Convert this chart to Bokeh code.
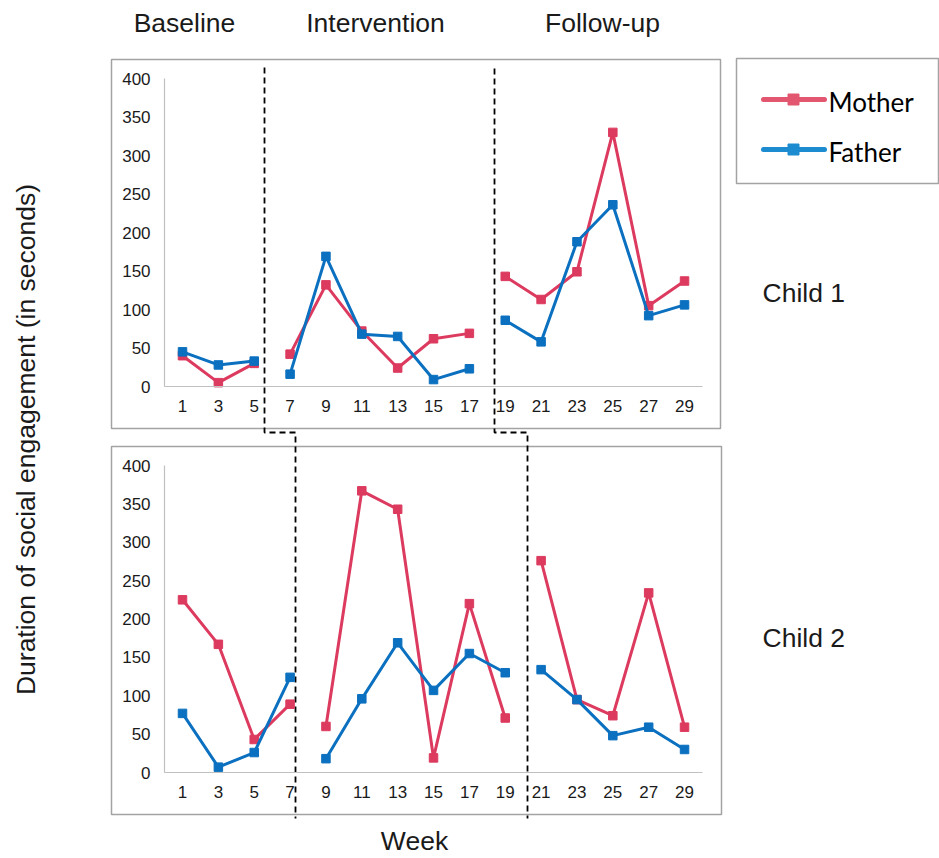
import math

from bokeh.core.properties import value
from bokeh.embed import file_html
from bokeh.models import FixedTicker, LinearAxis, Range1d
from bokeh.plotting import figure
from bokeh.resources import INLINE

# ---- data -------------------------------------------------------------
weeks = list(range(1, 30, 2))

child1_mother = [40, 5, 30, 42, 132, 72, 24, 62, 69, 143, 113, 149, 330, 105, 137]
child1_father = [45, 28, 33, 16, 169, 68, 65, 9, 23, 86, 58, 188, 236, 92, 106]
child1_phases = ["Baseline"] * 3 + ["Intervention"] * 6 + ["Follow-up"] * 6

child2_mother = [225, 167, 43, 89, 60, 367, 343, 19, 220, 71, 276, 95, 74, 234, 59]
child2_father = [77, 7, 26, 124, 18, 96, 169, 107, 155, 130, 134, 95, 48, 59, 30]
child2_phases = ["Baseline"] * 4 + ["Intervention"] * 6 + ["Follow-up"] * 5

phase_names = ["Baseline", "Intervention", "Follow-up"]
child_names = ["Child 1", "Child 2"]
series_names = ["Mother", "Father"]
y_ticks = [0, 50, 100, 150, 200, 250, 300, 350, 400]

# ---- styling ----------------------------------------------------------
W, H = 939, 858
RED = "#dc3a5e"
BLUE = "#0b70bf"
RED_LEGEND = "#e2566f"
BLUE_LEGEND = "#1d8bd0"
FONT = "Liberation Sans"
TEXT = "#1a1a1a"
BIG = "26.5px"

# week scale: week 1 sits 182 px from the left, 17.93 px per week
STEP = 17.93
X0 = 182
x_range = Range1d(1 - X0 / STEP, 1 + (W - X0) / STEP)
# value scales of the two panels (zero line and px per second)
top_range = Range1d(-(H - 386) / 0.77, 386 / 0.77)
bottom_range = Range1d(-(H - 772) / 0.7675, 772 / 0.7675)

p = figure(
    width=W, height=H,
    x_range=x_range, y_range=top_range,
    x_axis_location=None, y_axis_location=None,
    min_border=0, outline_line_color=None,
    toolbar_location=None, output_backend="svg",
)
p.grid.visible = False
p.extra_y_ranges = {"bottom": bottom_range, "py": Range1d(H, 0)}
p.extra_x_ranges = {"px": Range1d(0, W)}

# panel frames and legend frame (page pixel coordinates)
p.quad(left=[111, 111, 736], right=[720, 721, 938], top=[59, 446, 58], bottom=[428, 814, 183],
       fill_color=None, line_color="#a3a3a3", line_width=1.5,
       x_range_name="px", y_range_name="py")

# axes drawn inside each panel
for rng in ("default", "bottom"):
    yax = LinearAxis(
        y_range_name=rng, fixed_location=0, bounds=(0, 400),
        ticker=FixedTicker(ticks=y_ticks),
        axis_line_color="#c0c0c0", axis_line_width=1.2,
        major_tick_line_color=None, minor_tick_line_color=None,
        major_tick_in=0, major_tick_out=0, minor_tick_in=0, minor_tick_out=0,
        major_label_standoff=14,
        major_label_text_font=FONT, major_label_text_font_size="17px",
        major_label_text_color=TEXT,
    )
    p.add_layout(yax, "left")
    xax = LinearAxis(
        y_range_name=rng, fixed_location=0, bounds=(0, 30),
        ticker=FixedTicker(ticks=weeks),
        axis_line_color="#c0c0c0", axis_line_width=1.2,
        major_tick_line_color=None, minor_tick_line_color=None,
        major_tick_in=0, major_tick_out=0, minor_tick_in=0, minor_tick_out=0,
        major_label_standoff=13,
        major_label_text_font=FONT, major_label_text_font_size="17px",
        major_label_text_color=TEXT,
    )
    p.add_layout(xax, "below")

# phase divider lines
p.multi_line(xs=[[264, 264, 295, 295], [494, 494, 527, 527]],
             ys=[[67, 432, 432, 818], [68, 432, 432, 818]],
             line_color="black", line_width=1.8, line_dash="6 4",
             x_range_name="px", y_range_name="py")

# series, one broken line per phase
panels = [
    (child1_mother, child1_father, child1_phases, "default"),
    (child2_mother, child2_father, child2_phases, "bottom"),
]
for mother, father, phases, rng in panels:
    for ph in phase_names:
        idx = [i for i, q in enumerate(phases) if q == ph]
        xs = [weeks[i] for i in idx]
        for series, color in ((mother, RED), (father, BLUE)):
            ys = [series[i] for i in idx]
            p.line(xs, ys, line_color=color, line_width=3, y_range_name=rng)
            p.scatter(xs, ys, marker="square", size=8.5, fill_color=color,
                      line_color=color, y_range_name=rng)

# phase titles
p.text(x=[184, 375, 602], y=[22, 22, 22], text=phase_names,
       text_font=value(FONT), text_font_size=value(BIG), text_color=TEXT,
       text_align="center", text_baseline="middle",
       x_range_name="px", y_range_name="py")
# child labels
p.text(x=[762, 762], y=[292, 637], text=child_names,
       text_font=value(FONT), text_font_size=value(BIG), text_color=TEXT,
       text_align="left", text_baseline="middle",
       x_range_name="px", y_range_name="py")
# axis titles
p.text(x=[414], y=[840], text=["Week"],
       text_font=value(FONT), text_font_size=value(BIG), text_color=TEXT,
       text_align="center", text_baseline="middle",
       x_range_name="px", y_range_name="py")
p.text(x=[25], y=[439], text=["Duration of social engagement (in seconds)"],
       angle=math.pi / 2,
       text_font=value(FONT), text_font_size=value(BIG), text_color=TEXT,
       text_align="center", text_baseline="middle",
       x_range_name="px", y_range_name="py")

# legend
p.segment(x0=[763, 763], y0=[99, 149], x1=[824, 824], y1=[99, 149],
          line_color=[RED_LEGEND, BLUE_LEGEND], line_width=5, line_cap="round",
          x_range_name="px", y_range_name="py")
p.scatter(x=[793, 793], y=[99, 149], marker="square", size=11,
          fill_color=[RED_LEGEND, BLUE_LEGEND], line_color=[RED_LEGEND, BLUE_LEGEND],
          x_range_name="px", y_range_name="py")
p.text(x=[828, 828], y=[101, 151], text=series_names,
       text_font=value("Lato"), text_font_size=value("26px"), text_color="black",
       text_align="left", text_baseline="middle",
       x_range_name="px", y_range_name="py")

open("out.html", "w").write(file_html(p, INLINE))
